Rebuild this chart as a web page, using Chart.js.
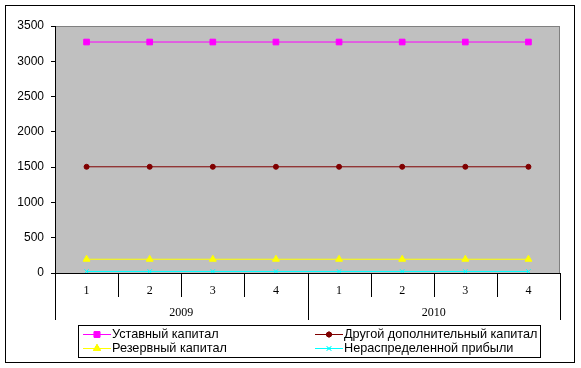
<!DOCTYPE html>
<html>
<head>
<meta charset="utf-8">
<script src="https://cdn.jsdelivr.net/npm/chart.js@4.4.0/dist/chart.umd.min.js"></script>
<style>
  html, body { margin: 0; padding: 0; background: #fff; }
  #wrap { width: 581px; height: 368px; }
</style>
</head>
<body>
<div id="wrap"><canvas id="chart" width="581" height="368"></canvas></div>
<script>
const quarters = ['1', '2', '3', '4', '1', '2', '3', '4'];
const years = ['2009', '2010'];
const ustavny = [3273, 3273, 3273, 3273, 3273, 3273, 3273, 3273];
const drugoy = [1505, 1505, 1505, 1505, 1505, 1505, 1505, 1505];
const rezervny = [195, 195, 195, 195, 195, 195, 195, 195];
const neraspr = [22, 22, 22, 22, 22, 22, 22, 22];
const yTicks = [0, 500, 1000, 1500, 2000, 2500, 3000, 3500];

const sansFont = "'Liberation Sans', Arial, sans-serif";
const serifFont = "'Liberation Serif', 'Times New Roman', serif";

// grey plot area + outer frame
const backdrop = {
  id: 'backdrop',
  beforeDraw(chart) {
    const { ctx, chartArea: a } = chart;
    ctx.save();
    ctx.fillStyle = '#fff';
    ctx.fillRect(0, 0, chart.width, chart.height);
    ctx.strokeStyle = '#000';
    ctx.lineWidth = 1;
    ctx.strokeRect(5.5, 5.5, chart.width - 12, chart.height - 11);
    ctx.fillStyle = '#c0c0c0';
    ctx.fillRect(a.left, a.top, a.right - a.left, a.bottom - a.top);
    ctx.strokeStyle = '#808080';
    ctx.strokeRect(a.left + 0.5, a.top + 0.5, a.right - a.left - 1, a.bottom - a.top);
    ctx.restore();
  }
};

// grouped category axis: separators and year labels
const groupAxis = {
  id: 'groupAxis',
  afterDraw(chart) {
    const { ctx, chartArea: a } = chart;
    const x = chart.scales.x;
    const step = x.getPixelForValue(1) - x.getPixelForValue(0);
    ctx.save();
    ctx.strokeStyle = '#000';
    ctx.lineWidth = 1;
    for (let i = 0; i <= quarters.length; i++) {
      const px = Math.round(x.getPixelForValue(i) - step / 2) + 0.5;
      const end = i % 4 === 0 ? a.bottom + 47 : a.bottom + 24;
      ctx.beginPath();
      ctx.moveTo(px, a.bottom);
      ctx.lineTo(px, end);
      ctx.stroke();
    }
    ctx.fillStyle = '#000';
    ctx.font = '12px ' + serifFont;
    ctx.textAlign = 'center';
    ctx.textBaseline = 'middle';
    years.forEach((y, g) => {
      const cx = (x.getPixelForValue(g * 4) + x.getPixelForValue(g * 4 + 3)) / 2;
      ctx.fillText(y, cx, a.bottom + 40);
    });
    ctx.restore();
  }
};

// two-column legend in a box
const boxLegend = {
  id: 'boxLegend',
  afterDraw(chart) {
    const { ctx } = chart;
    const left = 78, top = 325, w = 462, h = 32;
    ctx.save();
    ctx.fillStyle = '#fff';
    ctx.fillRect(left, top, w, h);
    ctx.strokeStyle = '#000';
    ctx.lineWidth = 1;
    ctx.strokeRect(left + 0.5, top + 0.5, w, h);
    const cols = [83, 315];
    const rows = [334, 348];
    ctx.font = '12.7px ' + sansFont;
    ctx.textBaseline = 'middle';
    chart.data.datasets.forEach((ds, i) => {
      const cx = cols[i % 2], cy = rows[Math.floor(i / 2)];
      ctx.strokeStyle = ds.borderColor;
      ctx.beginPath();
      ctx.moveTo(cx, cy + 0.5);
      ctx.lineTo(cx + 28, cy + 0.5);
      ctx.stroke();
      Chart.helpers.drawPoint(ctx, {
        pointStyle: ds.pointStyle,
        radius: ds.pointRadius,
        borderWidth: 1,
        rotation: 0
      }, cx + 14, cy + 0.5);
      ctx.fillStyle = ds.pointBackgroundColor;
      ctx.strokeStyle = ds.borderColor;
      ctx.fill();
      ctx.stroke();
      ctx.fillStyle = '#000';
      ctx.fillText(ds.label, cx + 29, cy);
    });
    ctx.restore();
  }
};

function series(label, data, color, style, radius) {
  return {
    label: label,
    data: data,
    borderColor: color,
    backgroundColor: color,
    pointBackgroundColor: color,
    pointBorderColor: color,
    pointStyle: style,
    pointRadius: radius,
    pointHoverRadius: radius,
    borderWidth: 1,
    pointBorderWidth: 1,
    tension: 0
  };
}

new Chart(document.getElementById('chart'), {
  type: 'line',
  data: {
    labels: quarters,
    datasets: [
      series('Уставный капитал', ustavny, '#ff00ff', 'rect', 4),
      series('Другой дополнительный капитал', drugoy, '#800000', 'circle', 2.5),
      series('Резервный капитал', rezervny, '#ffff00', 'triangle', 4),
      series('Нераспределенной прибыли', neraspr, '#00ffff', 'crossRot', 3)
    ]
  },
  options: {
    responsive: false,
    animation: false,
    layout: { padding: { left: 5, top: 26, right: 21, bottom: 48 } },
    plugins: {
      legend: { display: false },
      tooltip: { enabled: false }
    },
    scales: {
      x: {
        offset: true,
        grid: { display: false },
        border: { display: true, color: '#000', width: 1 },
        ticks: { color: '#000', font: { family: serifFont, size: 12 }, padding: 3, maxRotation: 0 },
        afterFit(scale) { scale.height = 47; }
      },
      y: {
        min: 0,
        max: 3500,
        afterBuildTicks(scale) { scale.ticks = yTicks.map(v => ({ value: v })); },
        grid: { drawOnChartArea: false, drawTicks: true, tickLength: 4, color: '#000' },
        border: { display: true, color: '#000', width: 1 },
        ticks: {
          color: '#000',
          font: { family: sansFont, size: 12 },
          padding: 7,
          callback: v => String(v)
        },
        afterFit(scale) { scale.width = 50; }
      }
    }
  },
  plugins: [backdrop, groupAxis, boxLegend]
});
</script>
</body>
</html>
